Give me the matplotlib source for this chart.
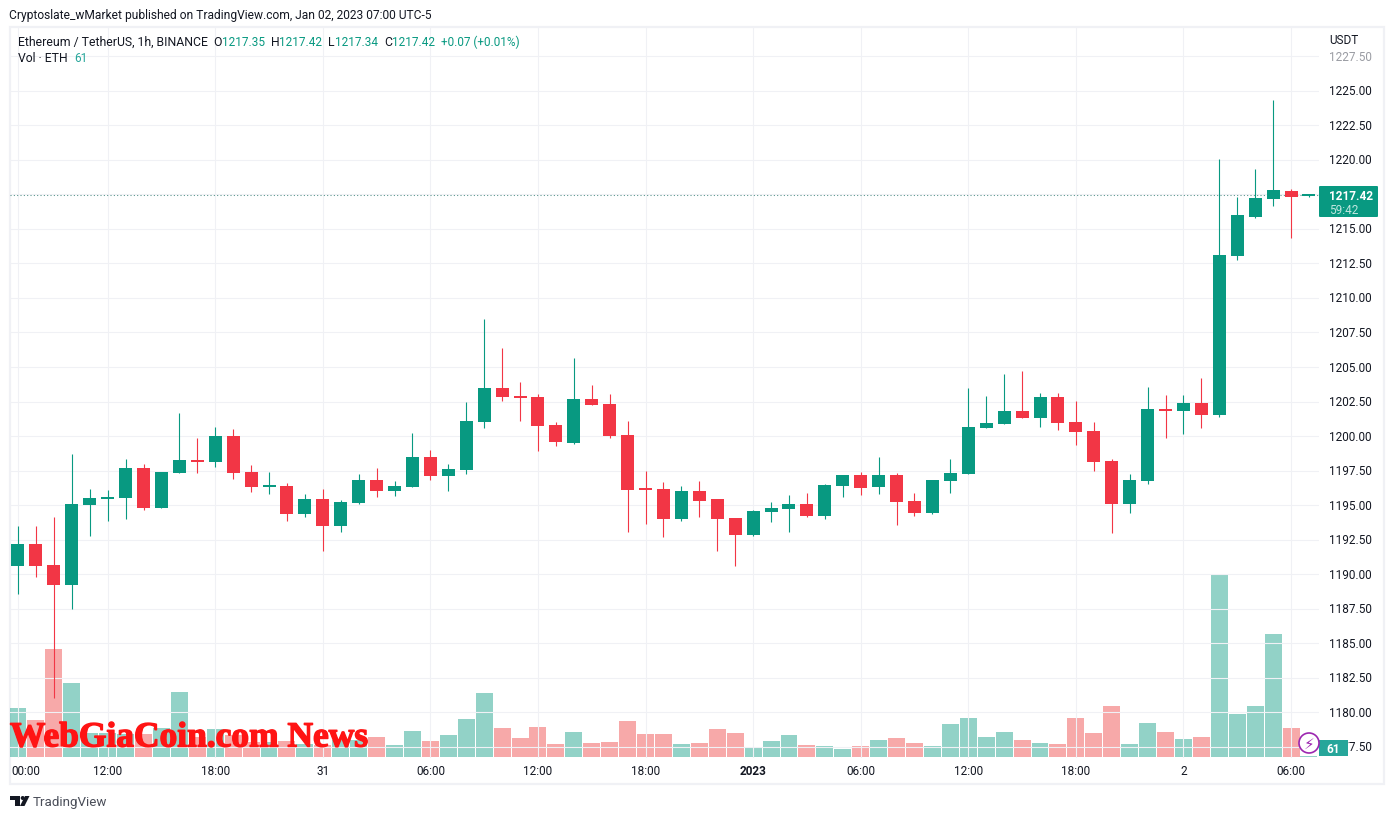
import numpy as np
import matplotlib
matplotlib.use("Agg")
import matplotlib.pyplot as plt
import matplotlib.patheffects as pe
from matplotlib.patches import Rectangle, Ellipse, Polygon, FancyBboxPatch
from matplotlib.transforms import ScaledTranslation

W, H = 1393, 820
GREEN, RED = "#089981", "#F23645"
VOL_RED = "#EE3B3B"
DARK = "#131722"
GRID = "#F0F1F5"
FONT = "Roboto"

opens = [1190.60,1192.20,1190.68,1189.23,1195.02,1195.45,1195.52,1197.70,1194.80,1197.33,
         1198.27,1198.13,1200.01,1197.41,1196.32,1196.39,1194.37,1195.45,1193.50,1195.16,
         1196.83,1196.03,1196.32,1198.49,1197.12,1197.55,1201.03,1203.49,1202.83,1202.83,
         1200.81,1199.51,1202.69,1202.33,1200.08,1196.18,1196.18,1194.02,1196.05,1195.47,
         1194.10,1192.86,1194.53,1194.75,1195.11,1194.24,1196.41,1197.21,1196.34,1197.21,
         1195.33,1194.46,1196.77,1197.28,1200.61,1200.90,1201.84,1201.33,1202.85,1201.04,
         1200.39,1198.22,1195.11,1196.77,1201.98,1201.84,1202.42,1201.55,1213.01,1215.83,
         1217.13,1217.71,1217.35]
highs = [1193.50,1193.50,1194.15,1198.71,1196.18,1196.10,1198.35,1197.99,1197.41,1201.68,
         1199.87,1200.66,1200.52,1197.91,1197.41,1196.61,1195.81,1196.18,1195.38,1197.26,
         1197.70,1196.76,1200.23,1199.00,1197.99,1202.47,1208.48,1206.38,1203.92,1203.05,
         1201.03,1205.66,1203.70,1203.05,1201.10,1197.48,1196.68,1196.41,1196.77,1195.47,
         1194.10,1194.67,1195.25,1195.76,1195.90,1196.56,1197.21,1197.42,1198.51,1197.35,
         1195.90,1196.85,1198.37,1203.50,1202.93,1204.52,1204.73,1203.14,1203.14,1202.56,
         1201.04,1198.37,1197.28,1203.58,1203.00,1203.00,1204.23,1220.03,1217.28,1219.30,
         1224.30,1217.86,1217.42]
lows = [1188.58,1189.80,1181.05,1187.51,1192.77,1193.86,1194.00,1194.66,1194.80,1197.33,
        1197.33,1197.77,1196.90,1195.96,1195.81,1193.86,1194.15,1191.69,1193.06,1195.09,
        1195.60,1195.67,1196.32,1196.83,1196.03,1197.26,1200.59,1202.55,1201.10,1198.93,
        1199.29,1199.43,1202.26,1199.87,1193.06,1193.64,1192.70,1193.88,1194.17,1191.71,
        1190.62,1192.74,1193.81,1193.08,1194.17,1194.02,1195.62,1195.76,1195.83,1193.59,
        1194.24,1194.38,1195.90,1197.28,1200.61,1200.90,1201.33,1200.68,1200.46,1199.38,
        1197.50,1193.01,1194.46,1196.55,1199.89,1200.17,1200.61,1201.40,1212.72,1215.76,
        1216.63,1214.31,1217.34]
closes = [1192.20,1190.60,1189.23,1195.09,1195.52,1195.60,1197.70,1194.80,1197.41,1198.27,
          1198.13,1200.01,1197.33,1196.32,1196.39,1194.37,1195.45,1193.50,1195.24,1196.83,
          1196.03,1196.39,1198.49,1197.12,1197.62,1201.10,1203.49,1202.83,1202.76,1200.74,
          1199.58,1202.69,1202.26,1200.01,1196.10,1196.10,1194.00,1196.05,1195.33,1194.02,
          1192.86,1194.60,1194.82,1195.11,1194.24,1196.48,1197.21,1196.27,1197.21,1195.25,
          1194.46,1196.85,1197.35,1200.68,1200.97,1201.84,1201.33,1202.85,1200.97,1200.32,
          1198.15,1195.11,1196.85,1201.98,1201.84,1202.42,1201.55,1213.08,1215.97,1217.20,
          1217.78,1217.28,1217.42]
volumes = [2940,2220,6480,4440,1440,1440,1360,1400,1740,3900,
           1200,1680,1300,880,900,960,780,700,1000,1000,
           1200,720,1560,960,1320,2280,3840,1740,1140,1800,
           780,1500,840,900,2160,1380,1380,780,840,1680,
           1440,540,960,1320,720,660,480,660,1020,1140,
           840,660,1980,2340,1200,1500,1020,840,780,2340,
           1440,3060,780,2040,1500,1080,1200,10920,2580,3060,
           7380,1740,61]
price_ticks = [1177.5 + 2.5 * k for k in range(21)]
time_idx = [0, 5, 11, 17, 23, 29, 35, 41, 47, 53, 59, 65, 71]
time_labels = ["00:00","12:00","18:00","31","06:00","12:00","18:00","2023","06:00","12:00","18:00","2","06:00"]
last_price = 1217.42

fig = plt.figure(figsize=(W / 100, H / 100), dpi=100, facecolor="white")


def fx(x):
    return x / W


def fy(y):
    return 1 - y / H


def ftext(x, y, s, **kw):
    kw.setdefault("family", FONT)
    kw.setdefault("fontsize", 8.8)
    kw.setdefault("color", DARK)
    kw.setdefault("va", "center")
    return fig.text(fx(x), fy(y), s, **kw)


def frect(x0, y0, x1, y1, **kw):
    r = Rectangle((fx(x0), fy(y1)), fx(x1 - x0), (y1 - y0) / H, transform=fig.transFigure, **kw)
    fig.add_artist(r)
    return r


# pane frame
frect(10, 28, 1384, 785, facecolor="none", edgecolor=GRID, linewidth=1.6, zorder=0)

ax = fig.add_axes([fx(10), fy(759), fx(1309), 731 / H])
ax2 = ax.twinx()
ax.set_zorder(2)
ax2.set_zorder(1)
ax.patch.set_visible(False)

idx = np.arange(len(opens))
o, h, l, c, v = map(np.array, (opens, highs, lows, closes, volumes))
up = c >= o
colors = np.where(up, GREEN, RED)
vol_colors = np.where(up, GREEN, VOL_RED)

ax2.bar(idx, v, width=0.945, color=vol_colors, alpha=0.44, linewidth=0)
ax2.set_ylim(-60, 43800)
ax2.axis("off")

ax.vlines(idx, l, h, colors=colors, linewidth=0.8, zorder=3)
bottoms = np.minimum(o, c)
heights = np.maximum(np.abs(c - o), 0.14)
ax.bar(idx, heights, bottom=bottoms, width=0.725, color=colors, linewidth=0, zorder=4)
ax.axhline(last_price, color="#4F8F85", linewidth=0.75, linestyle=(0, (1, 2.2)), zorder=2)

ax.set_xlim(-0.446, 72.56)
ax.set_ylim(1176.70, 1229.61)
ax.grid(True, color=GRID, linewidth=0.8, zorder=0)
ax.set_axisbelow(True)
for s in ax.spines.values():
    s.set_visible(False)
ax.yaxis.tick_right()
ax.set_yticks(price_ticks)
ax.set_yticklabels([f"{p:.2f}" for p in price_ticks], family=FONT, fontsize=8.5, color=DARK)
ax.get_yticklabels()[-1].set_color("#9A9CA3")
ax.set_xticks(time_idx)
ax.set_xticklabels(time_labels, family=FONT, fontsize=8.5, color=DARK)
ax.tick_params(axis="both", length=0)
ax.tick_params(axis="y", pad=7)
ax.tick_params(axis="x", pad=4.3)
for lab, txt in zip(ax.get_xticklabels(), time_labels):
    if txt == "2023":
        lab.set_fontweight("bold")
first = ax.get_xticklabels()[0]
first.set_transform(first.get_transform() + ScaledTranslation(8 / 100, 0, fig.dpi_scale_trans))
up_shift = ScaledTranslation(0, 1.5 / 100, fig.dpi_scale_trans)
for lab in ax.get_yticklabels():
    lab.set_transform(lab.get_transform() + up_shift)

# header
ftext(9, 15, "Cryptoslate_wMarket published on TradingView.com, Jan 02, 2023 07:00 UTC-5", fontsize=8.65)
ftext(18, 42, "Ethereum / TetherUS, 1h, BINANCE")
for xl, xv, a, b in [(213, 222, "O", "1217.35"), (271, 279, "H", "1217.42"),
                     (328, 335, "L", "1217.34"), (384, 392, "C", "1217.42")]:
    ftext(xl, 42, a)
    ftext(xv, 42, b, color=GREEN, fontsize=8.5)
ftext(441, 42, "+0.07 (+0.01%)", color=GREEN, fontsize=8.5)
ftext(18, 58, "Vol · ETH")
ftext(74, 58, "61", color="#26A69A", fontsize=8.5)
ftext(1329, 40, "USDT", fontsize=8.5)

# last price badge
b = FancyBboxPatch((fx(1319), fy(218)), fx(59), 31 / H, boxstyle="round,pad=0,rounding_size=0.001",
                   transform=fig.transFigure, facecolor=GREEN, edgecolor="none", zorder=5)
fig.add_artist(b)
ftext(1329, 196, "1217.42", color="white", fontweight="bold", fontsize=8.5, zorder=6)
ftext(1329, 210, "59:42", color="#BFE6DF", fontsize=8.5, zorder=6)

# volume badge and flash icon
frect(1319, 741, 1348, 757, facecolor="#26A69A", edgecolor="none", zorder=5)
ftext(1333.5, 749.5, "61", color="white", fontweight="bold", fontsize=8.5, ha="center", zorder=6)
fig.add_artist(Ellipse((fx(1309), fy(744)), 20 / W, 20 / H, transform=fig.transFigure,
                       facecolor="white", edgecolor="#9C27B0", linewidth=1.2, zorder=5))
ftext(1309, 744, "\u26a1", family="DejaVu Sans", color="#9C27B0", fontsize=11, ha="center", zorder=6)

# watermark
wm = ftext(10, 739, "WebGiaCoin.com News", family="Liberation Serif", fontweight="bold",
           fontsize=25.5, color="#FF1414", zorder=7)
wm.set_path_effects([pe.withStroke(linewidth=1.0, foreground="#FF1414")])

# footer logo
logo = "#131722"
frect(10, 797, 20, 801, facecolor=logo, edgecolor="none")
frect(15, 801, 20, 807, facecolor=logo, edgecolor="none")
fig.add_artist(Ellipse((fx(22.7), fy(799)), 4 / W, 4 / H, transform=fig.transFigure, facecolor=logo, edgecolor="none"))
fig.add_artist(Polygon([(fx(25), fy(797)), (fx(29.5), fy(797)), (fx(24.5), fy(807)), (fx(20), fy(807))],
                       closed=True, transform=fig.transFigure, facecolor=logo, edgecolor="none"))
ftext(33, 802.5, "TradingView", fontsize=9.6, color="#4A4E59")

fig.savefig("out.png", dpi=100, facecolor="white")
